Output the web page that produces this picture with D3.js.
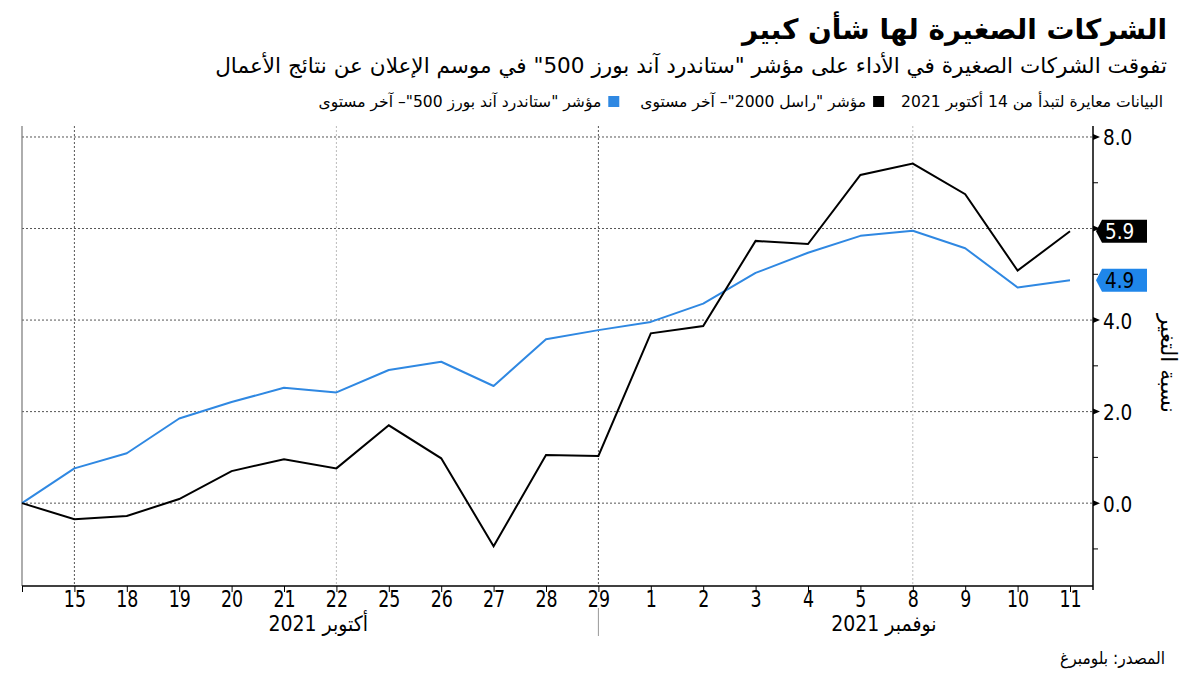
<!DOCTYPE html>
<html><head><meta charset="utf-8">
<script src="https://cdn.jsdelivr.net/npm/d3@7"></script>
<style>body{margin:0;background:#fff} svg{display:block}</style>
</head><body><svg id="c" width="1200" height="675"></svg>
<script>
// ---------- data ----------
const dates = ["14","15","18","19","20","21","22","25","26","27","28","29","1","2","3","4","5","8","9","10","11"];
const russell = [0,-0.35,-0.28,0.09,0.70,0.96,0.76,1.70,0.98,-0.94,1.05,1.03,3.71,3.87,5.73,5.66,7.17,7.42,6.75,5.08,5.94];
const spx = [0,0.76,1.09,1.85,2.21,2.52,2.42,2.91,3.09,2.56,3.58,3.78,3.96,4.36,5.03,5.47,5.84,5.95,5.57,4.71,4.87];
const yMajor = [0,2,4,6,8];
const yLabels = [0,2,4,8];
const yMinor = [-1,1,3,5,7];
const monthLabels = ["أكتوبر 2021","نوفمبر 2021"];
const monthStarts = ["14","1"];
const monthEnds = ["29","11"];
const gridDark = ["15","29"];
const gridLight = ["22","8"];
const title = "الشركات الصغيرة لها شأن كبير";
const subtitle = "تفوقت الشركات الصغيرة في الأداء على مؤشر \"ستاندرد آند بورز 500\" في موسم الإعلان عن نتائج الأعمال";
const legendNote = "البيانات معايرة لتبدأ من 14 أكتوبر 2021";
const seriesNames = ["مؤشر \"راسل 2000\"– آخر مستوى","مؤشر \"ستاندرد آند بورز 500\"– آخر مستوى"];
const yTitle = "نسبة التغير";
const source = "المصدر: بلومبرغ";

const BLACK = "#000", BLUE = "#2f88e2";
const FONT = "'DejaVu Sans', sans-serif";
const COND = "'DejaVu Sans Condensed', 'DejaVu Sans', sans-serif";

const svg = d3.select("#c");
const L = 22, R = 1093, T = 126, B = 586;

const x = d3.scalePoint().domain(dates).range([22, 1070]);
const y = d3.scaleLinear().domain([-1.81, 8.24]).range([B, T]);

function alignRight(sel, xr){ const b = sel.node().getBBox(); sel.attr("x", +sel.attr("x") + (xr - (b.x + b.width))); }
function fitWidth(sel, w){ const cur = sel.node().getBBox().width; const fs = parseFloat(sel.attr("font-size")); sel.attr("font-size", fs * w / cur); }

// ---------- header ----------
const t1 = svg.append("text").attr("x",1167).attr("y",39).attr("direction","rtl").attr("font-family",FONT)
  .attr("font-weight","bold").attr("font-size",30).attr("fill","#000").text(title);
fitWidth(t1, 427); alignRight(t1, 1167);
const t2 = svg.append("text").attr("x",1167).attr("y",73).attr("direction","rtl").attr("font-family",FONT)
  .attr("font-size",20).attr("fill","#000").text(subtitle);
fitWidth(t2, 952); alignRight(t2, 1167);

// legend
const lg = svg.append("g");
const lt = [legendNote, seriesNames[0], seriesNames[1]].map(s =>
  lg.append("text").attr("y",107).attr("x",0).attr("direction","rtl").attr("font-family",FONT).attr("font-size",14).attr("fill","#000").text(s));
const gaps = 17+11+7+21+11+7;
const sumW = d3.sum(lt, s => s.node().getBBox().width);
const lfs = 14 * (845 - gaps) / sumW;
lt.forEach(s => s.attr("font-size", lfs));
let cx = 1163;
alignRight(lt[0], cx); cx -= lt[0].node().getBBox().width + 17;
lg.append("rect").attr("x",cx-11).attr("y",96).attr("width",11).attr("height",11).attr("fill",BLACK); cx -= 11 + 7;
alignRight(lt[1], cx); cx -= lt[1].node().getBBox().width + 21;
lg.append("rect").attr("x",cx-11).attr("y",96).attr("width",11).attr("height",11).attr("fill",BLUE); cx -= 11 + 7;
alignRight(lt[2], cx);

// ---------- grid ----------
svg.append("g").selectAll("line").data(yMajor).join("line")
  .attr("x1",L).attr("x2",R).attr("y1",d=>y(d)).attr("y2",d=>y(d))
  .attr("stroke","#555").attr("stroke-width",1).attr("stroke-dasharray","2,2");
svg.append("g").selectAll("line").data(gridDark).join("line")
  .attr("x1",d=>x(d)).attr("x2",d=>x(d)).attr("y1",T).attr("y2",B)
  .attr("stroke","#555").attr("stroke-width",1).attr("stroke-dasharray","2,2");
svg.append("g").selectAll("line").data(gridLight).join("line")
  .attr("x1",d=>x(d)).attr("x2",d=>x(d)).attr("y1",T).attr("y2",B)
  .attr("stroke","#bbb").attr("stroke-width",1).attr("stroke-dasharray","2,2");

// left frame line
svg.append("line").attr("x1",L).attr("x2",L).attr("y1",T).attr("y2",B).attr("stroke","#777").attr("stroke-width",1.2);

// ---------- x axis ----------
const xAxis = d3.axisBottom(x).tickSize(6).tickPadding(5).tickFormat((d,i)=> i===0 ? "" : d);
const gx = svg.append("g").attr("transform",`translate(0,${B})`).call(xAxis);
gx.select(".domain").attr("d",`M${L},0H${R}`).attr("stroke","#000").attr("stroke-width",1.5);
gx.selectAll(".tick line").attr("stroke","#000");
gx.selectAll(".tick text").attr("font-family",COND).attr("font-stretch","condensed").attr("font-size",22.5).attr("fill","#000")
  .attr("y",null).attr("dy",null).attr("dominant-baseline",null).attr("transform","translate(0,21) scale(0.86,1)");
// month separator
svg.append("line").attr("x1",x("29")).attr("x2",x("29")).attr("y1",608).attr("y2",636).attr("stroke","#999").attr("stroke-width",1);
monthLabels.forEach((m,i)=>{
  const a = i===0 ? L : x(monthStarts[i]);
  const b = i===0 ? x(monthEnds[i]) : R;
  svg.append("text").attr("x",(a+b)/2 + (i===0?8:12)).attr("y",631).attr("text-anchor","middle")
    .attr("font-family",COND).attr("font-stretch","condensed").attr("font-size",21).attr("fill","#000").text(m);
});

// ---------- y axis (right) ----------
svg.append("line").attr("x1",R).attr("x2",R).attr("y1",T).attr("y2",B+4).attr("stroke","#000").attr("stroke-width",1.5);
svg.append("g").selectAll("path").data(yMajor).join("path")
  .attr("d",d=>`M${R},${y(d)-3}L${R+7},${y(d)}L${R},${y(d)+3}Z`).attr("fill","#000");
svg.append("g").selectAll("line").data(yMinor).join("line")
  .attr("x1",R).attr("x2",R+5).attr("y1",d=>y(d)).attr("y2",d=>y(d)).attr("stroke","#000");
svg.append("g").selectAll("text").data(yLabels).join("text")
  .attr("x",R+10).attr("y",d=>y(d)+8.5).attr("font-family",COND).attr("font-stretch","condensed").attr("font-size",20.5).attr("fill","#000")
  .text(d=>d3.format(".1f")(d));
const yt = svg.append("text").attr("x",0).attr("y",0).attr("direction","rtl").attr("font-family",FONT).attr("font-size",19).attr("fill","#000").text(yTitle);
fitWidth(yt, 100);
{
  const b = yt.node().getBBox();
  const cxm = b.x + b.width/2, cym = b.y + b.height/2;
  yt.attr("transform",`translate(1168,363) rotate(90) translate(${-cxm},${-cym})`);
}

// ---------- lines ----------
const line = d3.line().x((d,i)=>x(dates[i])).y(d=>y(d));
svg.append("path").datum(spx).attr("d",line).attr("fill","none").attr("stroke",BLUE).attr("stroke-width",2).attr("stroke-linejoin","round");
svg.append("path").datum(russell).attr("d",line).attr("fill","none").attr("stroke",BLACK).attr("stroke-width",2).attr("stroke-linejoin","miter");

// ---------- last value tags ----------
[[russell, BLACK, "#fff"], [spx, "#1f86ea", "#000"]].forEach(([s, bg, fg])=>{
  const v = s[s.length-1], cy = y(v);
  svg.append("path").attr("d",`M${R+3},${cy}L${R+9},${cy-11.5}H${R+54}V${cy+11.5}H${R+9}Z`).attr("fill",bg);
  svg.append("text").attr("x",R+12).attr("y",cy+8).attr("font-family",COND).attr("font-stretch","condensed").attr("font-size",20.5)
    .attr("fill",fg).text(d3.format(".1f")(v));
});

// ---------- source ----------
const src = svg.append("text").attr("x",1165).attr("y",664).attr("direction","rtl").attr("font-family",COND).attr("font-size",16).attr("fill","#000").text(source);
fitWidth(src, 105); alignRight(src, 1165);
</script></body></html>
